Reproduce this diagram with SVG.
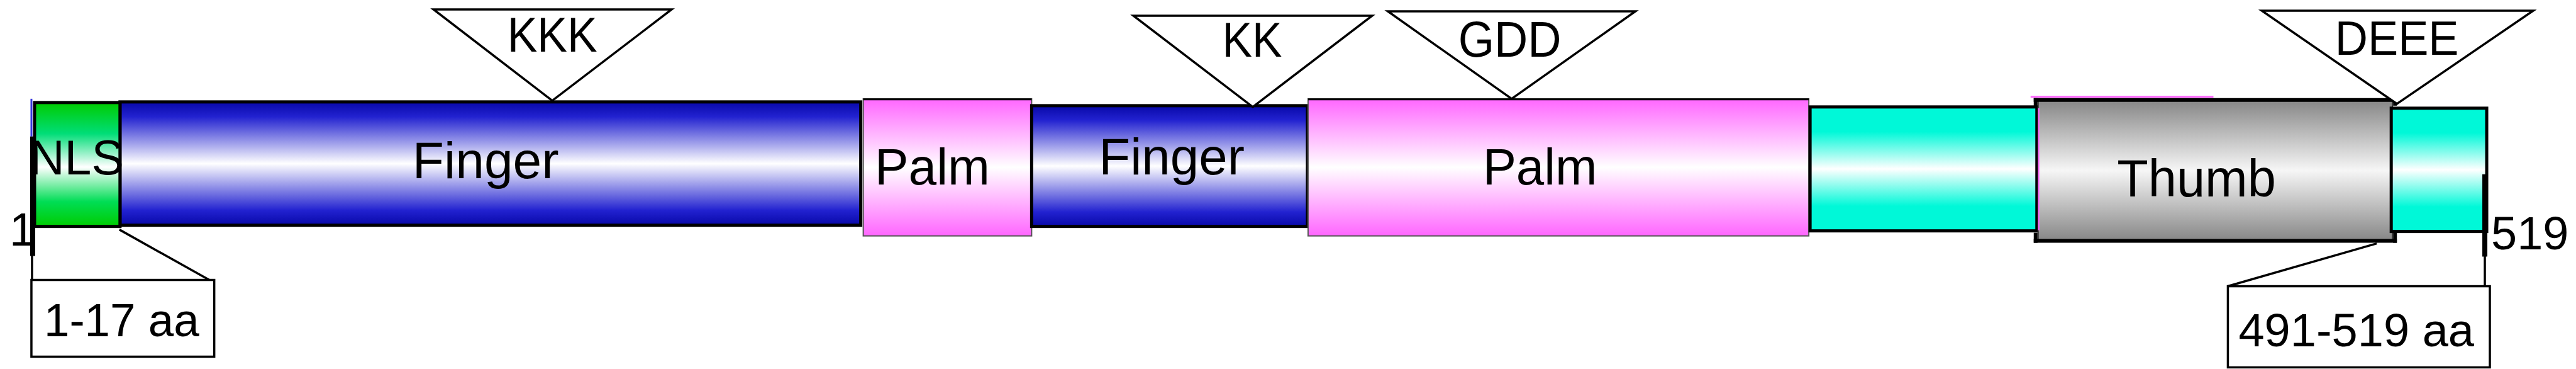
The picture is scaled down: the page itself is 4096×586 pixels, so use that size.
<svg xmlns="http://www.w3.org/2000/svg" width="4096" height="586" viewBox="0 0 4096 586">
<style>
.t{font-family:"Liberation Sans",Arial,sans-serif;fill:#000}
.bar{stroke:#000;stroke-width:5}
.tri{fill:#fff;stroke:#000;stroke-width:3.5;stroke-linejoin:miter}
.box{fill:#fff;stroke:#000;stroke-width:3.5}
.ln{stroke:#000;stroke-width:3.5;fill:none}
.tk{stroke:#000;stroke-width:8;fill:none}
</style>
<defs>
<linearGradient id="gBlue" x1="0" y1="0" x2="0" y2="1">
<stop offset="0" stop-color="#0808a8"/><stop offset="0.12" stop-color="#2222d0"/><stop offset="0.5" stop-color="#ffffff"/><stop offset="0.88" stop-color="#2222d0"/><stop offset="1" stop-color="#0808a8"/>
</linearGradient>
<linearGradient id="gGreen" x1="0" y1="0" x2="0" y2="1">
<stop offset="0" stop-color="#00cc00"/><stop offset="0.25" stop-color="#00dd77"/><stop offset="0.52" stop-color="#ffffff"/><stop offset="0.8" stop-color="#00dd55"/><stop offset="1" stop-color="#00cc00"/>
</linearGradient>
<linearGradient id="gPink" x1="0" y1="0" x2="0" y2="1">
<stop offset="0" stop-color="#ff66ff"/><stop offset="0.5" stop-color="#ffffff"/><stop offset="1" stop-color="#ff66ff"/>
</linearGradient>
<linearGradient id="gCyan" x1="0" y1="0" x2="0" y2="1">
<stop offset="0" stop-color="#00f8d8"/><stop offset="0.2" stop-color="#00f8d8"/><stop offset="0.5" stop-color="#ffffff"/><stop offset="0.8" stop-color="#00f8d8"/><stop offset="1" stop-color="#00f8d8"/>
</linearGradient>
<linearGradient id="gGray" x1="0" y1="0" x2="0" y2="1">
<stop offset="0" stop-color="#858585"/><stop offset="0.5" stop-color="#f6f6f6"/><stop offset="1" stop-color="#858585"/>
</linearGradient>
</defs>
<g transform="scale(0.999)">
<g id="connectors">
<line x1="50" y1="157" x2="50" y2="217" stroke="#3a3ae0" stroke-width="3"/>
<line class="ln" x1="51" y1="405" x2="51" y2="446"/>
<line class="ln" x1="190" y1="365" x2="333" y2="445"/>
<line class="ln" x1="3955" y1="405" x2="3955" y2="456"/>
<line class="ln" x1="3783" y1="387" x2="3546" y2="455"/>
</g>
<g id="finger1">
<rect class="bar" x="191" y="162" width="1179" height="196" fill="url(#gBlue)"/>
<text class="t" x="773" y="283" font-size="82" text-anchor="middle" textLength="233" lengthAdjust="spacingAndGlyphs">Finger</text>
</g>
<g id="nls">
<rect class="bar" x="55" y="163" width="136" height="197" fill="url(#gGreen)" stroke-width="3"/>
<text class="t" x="122" y="277" font-size="77" text-anchor="middle" textLength="150" lengthAdjust="spacingAndGlyphs">NLS</text>
</g>
<g id="tick-1">
<line class="tk" x1="52" y1="217" x2="52" y2="407"/>
<text class="t" x="15" y="390" font-size="74">1</text>
</g>
<g id="palm1">
<rect x="1374" y="157" width="268" height="218" fill="url(#gPink)" stroke="#555" stroke-width="2"/>
<line x1="1374" y1="158" x2="1642" y2="158" stroke="#000" stroke-width="3"/>
<text class="t" x="1484" y="293" font-size="82" text-anchor="middle" textLength="183" lengthAdjust="spacingAndGlyphs">Palm</text>
</g>
<g id="finger2">
<rect class="bar" x="1642" y="168" width="439" height="192" fill="url(#gBlue)"/>
<text class="t" x="1865" y="277" font-size="82" text-anchor="middle" textLength="232" lengthAdjust="spacingAndGlyphs">Finger</text>
</g>
<g id="palm2">
<rect x="2082" y="157" width="797" height="218" fill="url(#gPink)" stroke="#555" stroke-width="2"/>
<line x1="2082" y1="158" x2="2879" y2="158" stroke="#000" stroke-width="3"/>
<text class="t" x="2451" y="293" font-size="82" text-anchor="middle" textLength="182" lengthAdjust="spacingAndGlyphs">Palm</text>
</g>
<g id="linker">
<rect class="bar" x="2881" y="170" width="361" height="197" fill="url(#gCyan)"/>
</g>
<g id="thumb">
<line x1="3232" y1="154" x2="3523" y2="154" stroke="#ff66ff" stroke-width="3"/>
<rect x="3244" y="158" width="564" height="226" fill="url(#gGray)" stroke="#333" stroke-width="2"/>
<line x1="3237" y1="159" x2="3815" y2="159" stroke="#000" stroke-width="6"/>
<line x1="3237" y1="383" x2="3815" y2="383" stroke="#000" stroke-width="6"/>
<line x1="3240" y1="156" x2="3240" y2="170" stroke="#000" stroke-width="6"/>
<line x1="3240" y1="370" x2="3240" y2="386" stroke="#000" stroke-width="6"/>
<line x1="3245" y1="172" x2="3245" y2="366" stroke="#ff66ff" stroke-width="2"/>
<line x1="3812" y1="156" x2="3812" y2="168" stroke="#000" stroke-width="6"/>
<line x1="3812" y1="368" x2="3812" y2="386" stroke="#000" stroke-width="6"/>
<text class="t" x="3496" y="312" font-size="84" text-anchor="middle" textLength="253" lengthAdjust="spacingAndGlyphs">Thumb</text>
</g>
<g id="cterm">
<rect class="bar" x="3806" y="172" width="152" height="196" fill="url(#gCyan)" stroke-width="3"/>
</g>
<g id="tick-519">
<line class="tk" x1="3955" y1="277" x2="3955" y2="408"/>
<text class="t" x="3965" y="396" font-size="74">519</text>
</g>
<g id="motif-kkk">
<polygon class="tri" points="690,15 1069,15 879,160"/>
<text class="t" x="879" y="82" font-size="77" text-anchor="middle" textLength="143" lengthAdjust="spacingAndGlyphs">KKK</text>
</g>
<g id="motif-kk">
<polygon class="tri" points="1804,25 2184,25 1994,170"/>
<text class="t" x="1993" y="90" font-size="77" text-anchor="middle" textLength="95" lengthAdjust="spacingAndGlyphs">KK</text>
</g>
<g id="motif-gdd">
<polygon class="tri" points="2209,18 2603,18 2406,157"/>
<text class="t" x="2403" y="90" font-size="80" text-anchor="middle" textLength="164" lengthAdjust="spacingAndGlyphs">GDD</text>
</g>
<g id="motif-deee">
<polygon class="tri" points="3600,17 4032,17 3815,165"/>
<text class="t" x="3815" y="87" font-size="76" text-anchor="middle" textLength="197" lengthAdjust="spacingAndGlyphs">DEEE</text>
</g>
<g id="range-nls">
<rect class="box" x="50" y="445" width="291" height="122"/>
<text class="t" x="70" y="535" font-size="74" textLength="247" lengthAdjust="spacingAndGlyphs">1-17 aa</text>
</g>
<g id="range-cterm">
<rect class="box" x="3546" y="455" width="417" height="129"/>
<text class="t" x="3563" y="551" font-size="75" textLength="375" lengthAdjust="spacingAndGlyphs">491-519 aa</text>
</g>
</g>
</svg>
